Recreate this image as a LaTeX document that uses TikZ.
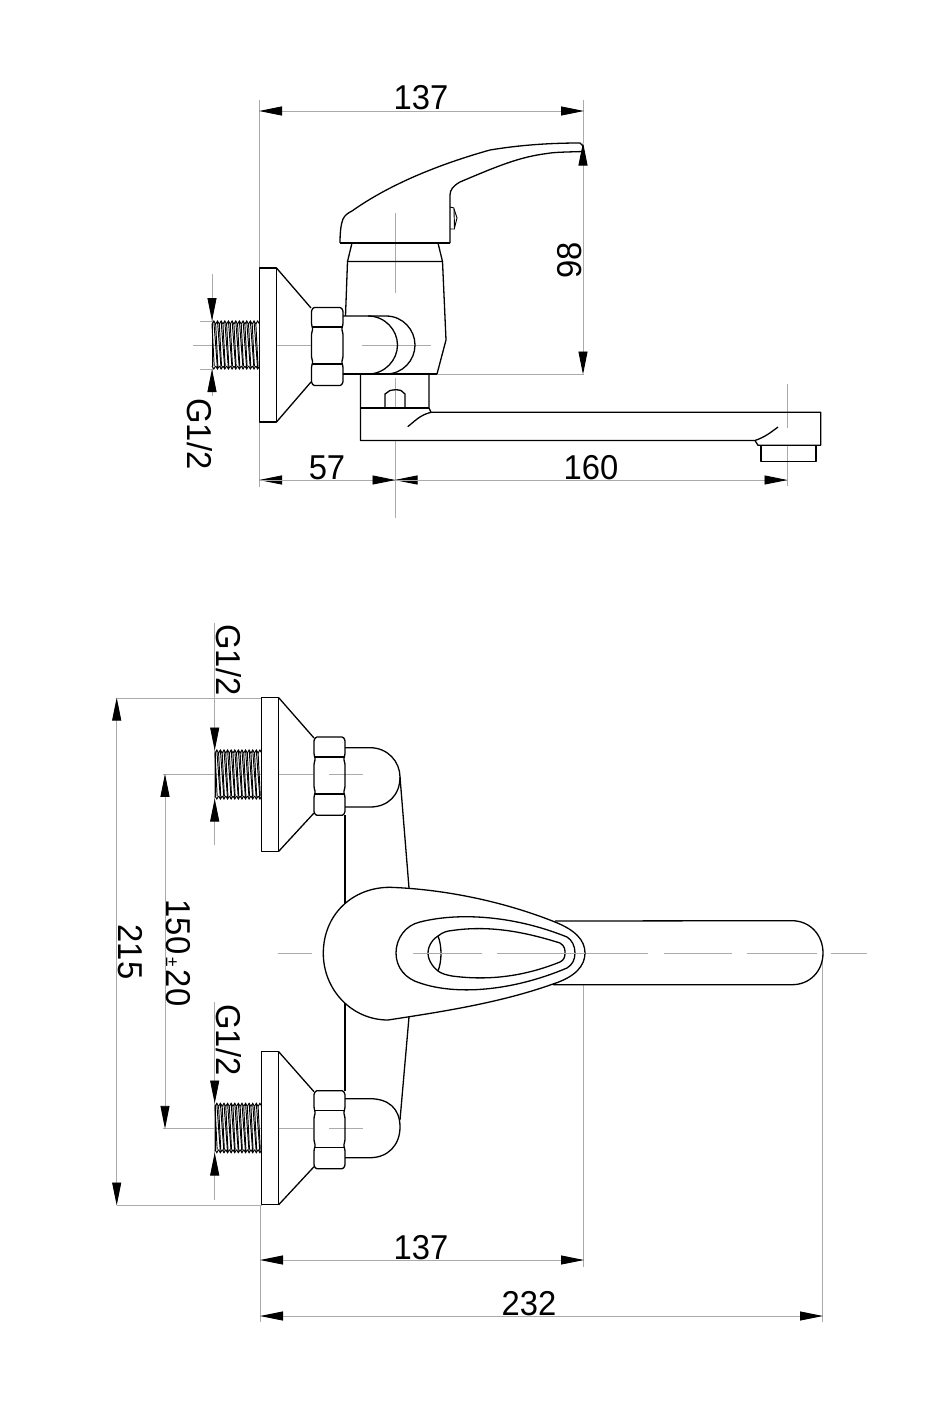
\documentclass[tikz,border=0pt]{standalone}
\usepackage{fontspec}
\setmainfont[FakeStretch=0.95]{Liberation Sans}
\usetikzlibrary{arrows.meta}
\tikzset{
  part/.style={draw=black,line width=1.3pt,line join=round},
  thin part/.style={draw=black,line width=0.95pt},
  guide/.style={draw=black!33,line width=0.9pt},
  tipp/.tip={Triangle[length=23pt,width=9pt,color=black,fill=black]},
  dimtwo/.style={guide,{tipp}-{tipp},shorten <=-0.5pt,shorten >=-0.5pt},
  dimone/.style={guide,-{tipp},shorten >=-0.5pt},
  lab/.style={font=\fontsize{34.5}{34.5}\selectfont,inner sep=0pt,anchor=base,text=black},
  labv/.style={lab,rotate=90},
  labw/.style={lab,rotate=-90},
}
% threaded stud: x1 x2 ytop ybottom
\newcommand{\studthread}[4]{%
  \pgfmathsetmacro{\stp}{(#2-#1)/13}%
  \foreach \i in {0,...,12}{%
    \pgfmathsetmacro{\xa}{#1+\i*\stp}%
    \pgfmathsetmacro{\xb}{\xa+0.5*\stp}%
    \pgfmathsetmacro{\xc}{\xa+\stp}%
    \pgfmathsetmacro{\xd}{\xa+1.5*\stp}%
    \draw[thin part] (\xa,#3+3) -- (\xb,#3) -- (\xc,#3+3);
    \draw[thin part] (\xa,#4-3) -- (\xb,#4) -- (\xc,#4-3);
    \draw[thin part] (\xa,#3+3) -- (\xa+0.6*\stp,#4-3);
    \ifnum\i<12 \draw[thin part] (\xb,#3) -- (\xd,#4); \fi
  }%
  \draw[thin part] (#1,#3+3) -- (#1,#4-3);
}
% nut: x1 x2 ytop yline1 yline2 ybottom
\newcommand{\hexnut}[6]{%
  \draw[part,rounded corners=1pt] (#1+2,#3) -- (#2-2,#3) -- (#2,#3+3)
     -- (#2,#4-3) -- (#2-1.2,#4+2) -- (#2,#4+7) -- (#2,#5-7) -- (#2-1.2,#5-2) -- (#2,#5+3)
     -- (#2,#6-3) -- (#2-2,#6) -- (#1+2,#6) -- (#1,#6-3)
     -- (#1,#5+3) -- (#1+1.2,#5-2) -- (#1,#5-7) -- (#1,#4+7) -- (#1+1.2,#4+2) -- (#1,#4-3)
     -- (#1,#3+3) -- cycle;
  \draw[part] (#1+0.5,#4) -- (#2-0.5,#4);
  \draw[part] (#1+0.5,#5) -- (#2-0.5,#5);
}
\begin{document}
\begin{tikzpicture}[x=1pt,y=-1pt]
\useasboundingbox[fill=white] (0,0) rectangle (932,1402);

%%%%% guides, upper view
\draw[guide] (259.5,100) -- (259.5,487);
\draw[guide] (583.5,100) -- (583.5,143);
\draw[guide] (430,374) -- (583.5,374);
\draw[guide] (193,345) -- (259,345) (277,345) -- (311,345) (362,345) -- (431,345);
\draw[guide] (200,321) -- (212,321) (200,369) -- (212,369);
\draw[guide] (395.3,213) -- (395.3,293) (395.3,378) -- (395.3,407) (395.3,441) -- (395.3,518);
\draw[guide] (787,384) -- (787,428) (787,446) -- (787,486);
\draw[guide] (212,274) -- (212,396);

%%%%% dimensions, upper view
\draw[dimtwo] (259.5,111) -- (583.5,111);
\draw[dimtwo] (583,143) -- (583,374);
\draw[dimone] (395,480) -- (259.5,480);
\draw[dimone] (259.5,480) -- (395,480);
\draw[dimone] (787,480) -- (395,480);
\draw[dimone] (395,480) -- (787,480);
\draw[dimone] (212,280) -- (212,320.5);
\draw[dimone] (212,392) -- (212,369.5);
\node[lab] (d137a) at (421,110) {137};
\node[lab] (d57) at (327,479) {57};
\node[lab] (d160) at (591,479) {160};
\node[labv] (d98) at (581,260) {98};
\node[labw] (g1) at (187.5,434) {G1/2};

%%%%% upper view part
% handle
\draw[part] (340,243) -- (450,243);
\draw[part] (340,243) .. controls (340,232) and (341,224) .. (343,219) .. controls (345,215) and (348,213) .. (352,211)
   .. controls (390,184) and (440,164) .. (490,150) .. controls (520,145) and (550,143) .. (580,143) -- (583,146) -- (583,151.5)
   .. controls (570,152) and (555,152) .. (547,153.5) .. controls (520,157) and (500,165) .. (460,182)
   .. controls (453,186) and (450,190) .. (450,195) -- (450,243);
\draw[thin part] (450,207) -- (454,208) -- (454.5,229) -- (450,229);
\draw[thin part] (454,209) -- (457,218) -- (454.5,228);
% neck and body
\draw[part] (352,243) -- (347.5,261.5) -- (442.5,261.5) -- (438,243);
\draw[part] (347.5,261.5) -- (345.5,316);
\draw[part] (442.5,261.5) -- (446,340) -- (437,374);
% flange
\draw[part] (259.5,268) rectangle (276.5,422);
\draw[part] (276.5,268) -- (311,308) (276.5,422) -- (311,382);
\studthread{212}{259.5}{321}{369}
\hexnut{311.5}{343}{307.5}{327}{364}{385.5}
% bulge
\draw[part] (343,316) -- (386,316) .. controls (403,316) and (415,330) .. (415,345) .. controls (415,360) and (403,374) .. (386,374);
\draw[part] (368,316) .. controls (385,316) and (397.5,330) .. (397.5,345) .. controls (397.5,360) and (385,374) .. (368,374);
\draw[part] (343,374) -- (437,374);
% block and spout
\draw[part] (360.5,374) -- (360.5,440.5) -- (755,440.5) -- (758,445.3) -- (820.7,445.3) -- (820.7,412.3) -- (431,412.3) -- (429,408) -- (429,374);
\draw[part] (360.5,408) -- (429,408);
\draw[part] (385,408) -- (385,394) -- (390,390.5) .. controls (395,389.5) and (397,389.5) .. (401,390.5) -- (405,394) -- (405,408);
\draw[part] (431,412.3) .. controls (420,415) and (415,421) .. (407.7,426.7);
\draw[part] (755,440.5) .. controls (765,437) and (770,433) .. (778,427);
\draw[part] (761,445.3) -- (761,461.5) -- (816,461.5) -- (816,445.3);

%%%%% guides, lower view
\draw[guide] (117,698) -- (262,698) (117,1205) -- (262,1205);
\draw[guide] (163,774.3) -- (262,774.3) (279,774.3) -- (313,774.3) (329,774.3) -- (363,774.3);
\draw[guide] (163,1128.3) -- (262,1128.3) (279,1128.3) -- (313,1128.3) (329,1128.3) -- (363,1128.3);
\draw[guide] (278,953.3) -- (312,953.3) (413,953.3) -- (482,953.3) (497,953.3) -- (648,953.3) (664,953.3) -- (732,953.3) (747,953.3) -- (817,953.3) (831,953.3) -- (867,953.3);
\draw[guide] (583.5,985) -- (583.5,1267) (822.5,954) -- (822.5,1322);
\draw[guide] (260.5,1205) -- (260.5,1322);
\draw[guide] (214.7,623) -- (214.7,845) (214.7,1002) -- (214.7,1200);

%%%%% dimensions, lower view
\draw[dimtwo] (116.7,698) -- (116.7,1205);
\draw[dimtwo] (165,774.3) -- (165,1128.3);
\draw[dimtwo] (260.5,1260) -- (583.5,1260);
\draw[dimtwo] (260.5,1316) -- (822.5,1316);
\draw[dimone] (214.7,727) -- (214.7,750);
\draw[dimone] (214.7,822) -- (214.7,799);
\draw[dimone] (214.7,1081) -- (214.7,1103);
\draw[dimone] (214.7,1176) -- (214.7,1153);
\node[lab] (d137b) at (421,1259) {137};
\node[lab] (d232) at (529,1315) {232};
\node[labw] (g2) at (216,660) {G1/2};
\node[labw] (g3) at (216,1040) {G1/2};
\node[labw] (d215) at (118,952) {215};
\node[labw] (d150) at (166,953) {150{\fontsize{18}{18}\selectfont\,±\,}20};

%%%%% lower view parts
% top inlet
\draw[part] (261.7,697.7) rectangle (278.7,851.3);
\draw[part] (278.7,697.7) -- (314,738) (278.7,851.3) -- (314,813);
\studthread{215}{261.7}{750}{799}
\hexnut{314}{345}{737}{757}{794}{815.3}
\draw[part] (345,747.7) -- (370,747.7) .. controls (388,747.7) and (400,762) .. (400,777) .. controls (400,795) and (388,807) .. (370,807) -- (345,807);
% bottom inlet
\draw[part] (261.7,1051.7) rectangle (278.7,1204.7);
\draw[part] (278.7,1051.7) -- (314,1091.7) (278.7,1204.7) -- (314,1166.7);
\studthread{215}{261.7}{1103.3}{1152.7}
\hexnut{314}{345}{1090.7}{1110.7}{1147.3}{1168.7}
\draw[part] (345,1098.7) -- (370,1098.7) .. controls (388,1098.7) and (400,1108) .. (400,1127) .. controls (400,1145) and (388,1157.7) .. (370,1157.7) -- (345,1157.7);
% body
\draw[part] (345,815) -- (345,905) (345,1002) -- (345,1091);
\draw[part] (400,777) -- (409,888) (409,1017) -- (400,1120);
% spout
\draw[part] (555,921) -- (792,920.7) .. controls (810,920.7) and (823,935) .. (823,953) .. controls (823,971) and (810,984.7) .. (792,984.7) -- (553,984.7);
% outer teardrop
\draw[part,fill=white] (323.3,953.3) .. controls (323.3,915) and (352,887.3) .. (390,887.3)
  .. controls (440,889) and (500,900) .. (555,922) .. controls (575,930) and (585,940) .. (585,953)
  .. controls (585,966) and (575,977) .. (553,984) .. controls (500,1003) and (440,1012) .. (388,1020)
  .. controls (352,1020) and (323.3,990) .. (323.3,953.3) -- cycle;
% middle loop
\draw[part] (396,953) .. controls (396,938) and (406,925) .. (420,922) .. controls (455,913) and (510,914) .. (567,937)
  .. controls (572,940) and (575,946) .. (575,953) .. controls (575,960) and (572,965) .. (567,968)
  .. controls (510,992) and (455,995) .. (420,983) .. controls (406,979) and (396,968) .. (396,953) -- cycle;
% inner loop
\draw[part] (428,953) .. controls (428,945) and (434,938) .. (438,936) .. controls (443,932) and (447,931) .. (452,930.5)
  .. controls (490,925) and (525,932) .. (560,943) .. controls (565,946) and (565,950) .. (565,953)
  .. controls (565,957) and (564,960) .. (560,962) .. controls (525,976) and (490,981) .. (452,976)
  .. controls (447,975) and (442,974) .. (438,971) .. controls (434,968) and (428,961) .. (428,953) -- cycle;
\draw[part] (438,936) .. controls (442,946) and (442,961) .. (438,971);
% centre line over the handle
\draw[guide] (413,953.3) -- (482,953.3) (497,953.3) -- (585,953.3);
\end{tikzpicture}
\end{document}
